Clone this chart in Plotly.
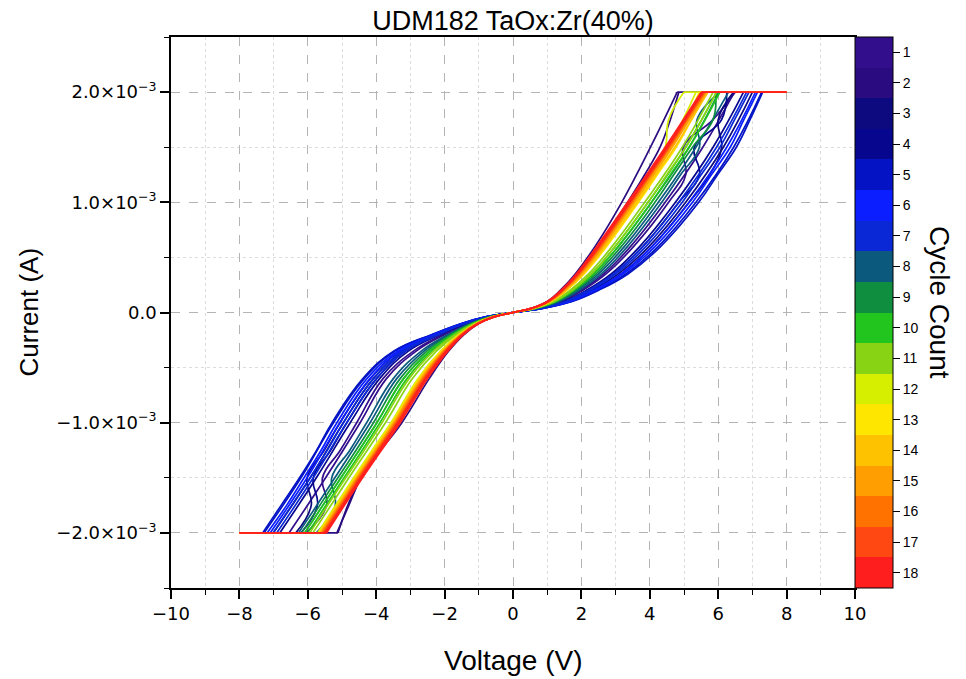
import plotly.graph_objects as go

# ---------------- data ----------------
CYCLES = list(range(1, 19))
CYCLE_COLORS = ["#330E8C", "#2A0B80", "#0C0A7E", "#06068F", "#0414C4", "#0A1EFF",
                "#0A28D6", "#0B5A7E", "#0E8E3E", "#22C41E", "#88D414", "#D6EE00",
                "#FFE600", "#FFC200", "#FF9E00", "#FF7200", "#FF4812", "#FF1E1E"]

# current levels (mA) at which the voltages were read
I_UP_MA = [0.04, 0.1, 0.2, 0.35, 0.6, 1.0, 1.5, 2.0]
I_DN_MA = [0.04, 0.1, 0.2, 0.35, 0.6, 1.0, 1.25, 1.5, 1.75, 2.0]
I_COMP_MA = 2.0          # compliance current
V_SWEEP = 8.0            # sweep limit

# positive branch, up sweep (V at I_UP_MA)
POS_UP_V = [
    [0.74, 1.39, 1.98, 2.65, 3.44, 4.45, 5.55, 6.47],
    [0.55, 1.00, 1.38, 1.82, 2.40, 3.18, 4.02, 4.80],
    [0.85, 1.60, 2.29, 3.08, 3.98, 5.05, 6.15, 7.00],
    [0.80, 1.49, 2.14, 2.87, 3.71, 4.75, 5.85, 6.74],
    [0.90, 1.70, 2.45, 3.30, 4.25, 5.35, 6.45, 7.27],
    [0.87, 1.63, 2.35, 3.16, 4.07, 5.15, 6.25, 7.09],
    [0.81, 1.53, 2.19, 2.94, 3.80, 4.85, 5.95, 6.83],
    [0.71, 1.32, 1.87, 2.50, 3.26, 4.25, 5.35, 6.30],
    [0.67, 1.25, 1.77, 2.36, 3.08, 4.05, 5.15, 6.02],
    [0.66, 1.21, 1.72, 2.29, 2.99, 3.95, 5.05, 5.95],
    [0.64, 1.18, 1.66, 2.21, 2.90, 3.85, 4.95, 5.85],
    [0.58, 1.06, 1.48, 1.97, 2.59, 3.51, 4.55, 5.35],
    [0.59, 1.08, 1.53, 2.02, 2.67, 3.59, 4.65, 5.45],
    [0.59, 1.07, 1.51, 2.00, 2.63, 3.55, 4.65, 5.60],
    [0.57, 1.04, 1.46, 1.94, 2.56, 3.47, 4.57, 5.61],
    [0.56, 1.03, 1.44, 1.91, 2.52, 3.43, 4.53, 5.57],
    [0.56, 1.01, 1.42, 1.88, 2.49, 3.39, 4.49, 5.54],
    [0.55, 1.00, 1.40, 1.85, 2.45, 3.35, 4.45, 5.50],
]

# positive branch, return sweep (V at I_DN_MA)
POS_DN_V = [
    [0.76, 1.42, 2.03, 2.72, 3.53, 4.55, 5.05, 4.98, 5.85, 6.50],
    [0.57, 1.04, 1.44, 1.90, 2.50, 3.35, 3.85, 4.30, 4.60, 4.85],
    [0.87, 1.63, 2.35, 3.16, 4.07, 5.15, 5.75, 6.10, 6.00, 6.45],
    [0.81, 1.53, 2.19, 2.94, 3.80, 4.85, 5.45, 5.30, 6.10, 6.25],
    [0.91, 1.73, 2.49, 3.36, 4.32, 5.43, 5.98, 6.53, 6.93, 7.30],
    [0.88, 1.67, 2.40, 3.23, 4.16, 5.25, 5.80, 6.35, 6.75, 7.15],
    [0.83, 1.56, 2.24, 3.01, 3.89, 4.95, 5.50, 6.05, 6.48, 6.90],
    [0.73, 1.35, 1.93, 2.58, 3.35, 4.35, 4.90, 5.45, 5.38, 6.05],
    [0.69, 1.28, 1.82, 2.43, 3.17, 4.15, 4.70, 5.25, 5.85, 5.92],
    [0.67, 1.25, 1.77, 2.36, 3.08, 4.05, 4.60, 5.15, 5.62, 6.05],
    [0.66, 1.21, 1.72, 2.29, 2.99, 3.95, 4.50, 5.05, 5.52, 5.95],
    [0.58, 1.08, 1.51, 2.00, 2.63, 3.55, 4.05, 4.45, 4.55, 5.00],
    [0.61, 1.11, 1.57, 2.08, 2.74, 3.67, 4.22, 4.77, 5.22, 5.65],
    [0.60, 1.10, 1.55, 2.05, 2.70, 3.63, 4.18, 4.73, 5.22, 5.70],
    [0.59, 1.07, 1.51, 2.00, 2.63, 3.55, 4.10, 4.65, 5.16, 5.66],
    [0.57, 1.05, 1.47, 1.95, 2.58, 3.49, 4.04, 4.59, 5.10, 5.62],
    [0.57, 1.04, 1.45, 1.92, 2.54, 3.45, 4.00, 4.55, 5.07, 5.59],
    [0.56, 1.02, 1.43, 1.89, 2.50, 3.41, 3.96, 4.51, 5.03, 5.55],
]

# negative branch, up sweep (|V| at I_UP_MA, current negative)
NEG_UP_V = [
    [0.70, 1.30, 1.99, 2.83, 3.70, 4.47, 5.48, 6.55],
    [0.55, 1.00, 1.43, 1.88, 2.45, 3.25, 4.45, 5.12],
    [0.76, 1.43, 2.22, 3.22, 4.08, 4.96, 5.93, 7.01],
    [0.74, 1.38, 2.13, 3.06, 3.90, 4.76, 5.75, 6.82],
    [0.80, 1.50, 2.35, 3.45, 4.35, 5.25, 6.20, 7.28],
    [0.78, 1.45, 2.26, 3.30, 4.18, 5.06, 6.02, 7.10],
    [0.75, 1.40, 2.17, 3.14, 3.99, 4.86, 5.84, 6.91],
    [0.66, 1.23, 1.86, 2.60, 3.40, 4.18, 5.21, 6.27],
    [0.64, 1.18, 1.77, 2.44, 3.20, 3.98, 5.03, 6.09],
    [0.63, 1.15, 1.72, 2.37, 3.10, 3.89, 4.94, 6.00],
    [0.61, 1.11, 1.65, 2.24, 2.94, 3.73, 4.80, 5.85],
    [0.58, 1.05, 1.54, 2.06, 2.70, 3.50, 4.58, 5.63],
    [0.57, 1.04, 1.52, 2.02, 2.66, 3.46, 4.54, 5.60],
    [0.57, 1.04, 1.51, 2.01, 2.64, 3.44, 4.53, 5.58],
    [0.56, 1.03, 1.50, 1.98, 2.60, 3.40, 4.49, 5.54],
    [0.56, 1.02, 1.48, 1.95, 2.56, 3.36, 4.45, 5.50],
    [0.56, 1.01, 1.47, 1.93, 2.54, 3.34, 4.44, 5.49],
    [0.55, 1.00, 1.45, 1.90, 2.50, 3.30, 4.40, 5.45],
]

# negative branch, return sweep (|V| at I_DN_MA)
NEG_DN_V = [
    [0.71, 1.33, 2.04, 2.91, 3.80, 4.57, 5.05, 5.57, 5.45, 6.05],
    [0.56, 1.03, 1.48, 1.95, 2.55, 3.40, 3.95, 4.45, 4.80, 5.15],
    [0.78, 1.45, 2.26, 3.30, 4.17, 5.06, 5.52, 6.02, 5.90, 6.35],
    [0.75, 1.40, 2.17, 3.14, 3.99, 4.86, 5.33, 5.84, 5.72, 6.20],
    [0.81, 1.51, 2.37, 3.48, 4.39, 5.29, 5.74, 6.24, 6.78, 7.32],
    [0.79, 1.48, 2.31, 3.37, 4.27, 5.15, 5.61, 6.11, 6.62, 7.19],
    [0.76, 1.43, 2.22, 3.22, 4.08, 4.96, 5.43, 5.93, 6.47, 7.01],
    [0.68, 1.25, 1.90, 2.68, 3.50, 4.28, 4.77, 5.30, 5.20, 5.75],
    [0.65, 1.20, 1.81, 2.52, 3.30, 4.08, 4.59, 5.12, 5.65, 6.18],
    [0.64, 1.18, 1.77, 2.44, 3.20, 3.98, 4.50, 5.03, 5.56, 6.09],
    [0.62, 1.14, 1.69, 2.32, 3.04, 3.83, 4.35, 4.89, 5.42, 5.94],
    [0.59, 1.07, 1.58, 2.12, 2.78, 3.57, 4.12, 4.66, 5.19, 5.71],
    [0.58, 1.06, 1.56, 2.09, 2.74, 3.53, 4.08, 4.62, 5.15, 5.67],
    [0.58, 1.06, 1.55, 2.07, 2.72, 3.51, 4.06, 4.60, 5.13, 5.65],
    [0.57, 1.05, 1.53, 2.04, 2.68, 3.48, 4.02, 4.56, 5.09, 5.62],
    [0.57, 1.04, 1.51, 2.01, 2.64, 3.44, 3.98, 4.53, 5.05, 5.58],
    [0.56, 1.03, 1.50, 1.98, 2.60, 3.40, 3.95, 4.49, 5.02, 5.54],
    [0.56, 1.02, 1.48, 1.95, 2.56, 3.36, 3.91, 4.45, 4.98, 5.50],
]

SUP = "<sup>\u22123</sup>"
Y_TICK_VALS = [-2e-3, -1e-3, 0.0, 1e-3, 2e-3]
Y_TICK_TEXT = ["\u22122.0\u00d710" + SUP, "\u22121.0\u00d710" + SUP, "0.0",
               "1.0\u00d710" + SUP, "2.0\u00d710" + SUP]
Y_MINOR_VALS = [-2.5e-3, -1.5e-3, -0.5e-3, 0.5e-3, 1.5e-3, 2.5e-3]

# ---------------- figure ----------------
FONT = "Liberation Sans, Arial, sans-serif"
TICK_FONT = "DejaVu Sans, Verdana, sans-serif"
MA = 1e-3
fig = go.Figure()


def s_curve(neg_v, pos_v, levels):
    xs = [-v for v in reversed(neg_v)] + [0.0] + list(pos_v)
    ys = [-i * MA for i in reversed(levels)] + [0.0] + [i * MA for i in levels]
    return xs, ys


for k, c in enumerate(CYCLES):
    col = CYCLE_COLORS[k]
    for neg, pos, lev in ((NEG_UP_V[k], POS_UP_V[k], I_UP_MA),
                          (NEG_DN_V[k], POS_DN_V[k], I_DN_MA)):
        xs, ys = s_curve(neg, pos, lev)
        fig.add_trace(go.Scatter(x=xs, y=ys, mode="lines",
                                 line=dict(color=col, width=1.7, shape="spline", smoothing=1.2),
                                 showlegend=False, hoverinfo="skip"))
    vp = min(POS_UP_V[k][-1], POS_DN_V[k][-1])
    vn = min(NEG_UP_V[k][-1], NEG_DN_V[k][-1])
    fig.add_trace(go.Scatter(x=[vp, V_SWEEP, None, -V_SWEEP, -vn],
                             y=[I_COMP_MA * MA, I_COMP_MA * MA, None, -I_COMP_MA * MA, -I_COMP_MA * MA],
                             mode="lines", line=dict(color=col, width=1.7),
                             showlegend=False, hoverinfo="skip"))

# discrete colour bar, cycle 1 at the top
n = len(CYCLES)
cscale = []
for j in range(n):
    colr = CYCLE_COLORS[n - 1 - j]
    cscale.append([j / n, colr])
    cscale.append([(j + 1) / n, colr])

fig.add_trace(go.Scatter(
    x=[None], y=[None], mode="markers", showlegend=False, hoverinfo="skip",
    marker=dict(color=[1], cmin=0.5, cmax=n + 0.5, colorscale=cscale, showscale=True,
                colorbar=dict(thickness=38, thicknessmode="pixels", len=1, lenmode="fraction",
                              x=1.0, xanchor="left", xpad=0, y=0.5, yanchor="middle", ypad=0,
                              outlinewidth=1, outlinecolor="black",
                              tickmode="array", tickvals=[n + 1 - c for c in CYCLES],
                              ticktext=[str(c) for c in CYCLES],
                              ticks="outside", ticklen=7, tickwidth=1, tickcolor="black",
                              tickfont=dict(family=FONT, size=14, color="black"))),
))

axis_common = dict(showline=True, linecolor="black", linewidth=1.5, mirror=True,
                   ticks="outside", tickwidth=1.5, ticklen=9, tickcolor="black",
                   showgrid=True, gridcolor="#b4b4b4", gridwidth=1, griddash="dash",
                   zeroline=False, tickfont=dict(family=TICK_FONT, size=18, color="black"))

fig.update_xaxes(range=[-10, 10], tickmode="linear", tick0=-10, dtick=2,
                 minor=dict(tickmode="linear", tick0=-9, dtick=2, ticks="outside", ticklen=5,
                            tickwidth=1.2, tickcolor="black", showgrid=True,
                            gridcolor="#dcdcdc", griddash="dot", gridwidth=1),
                 **axis_common)
fig.update_yaxes(range=[-2.5e-3, 2.5e-3], tickmode="array", tickvals=Y_TICK_VALS,
                 ticktext=Y_TICK_TEXT,
                 minor=dict(tickmode="array", tickvals=Y_MINOR_VALS, ticks="outside", ticklen=5,
                            tickwidth=1.2, tickcolor="black", showgrid=True,
                            gridcolor="#dcdcdc", griddash="dot", gridwidth=1),
                 **axis_common)

fig.update_layout(
    width=966, height=679,
    margin=dict(l=171, r=111, t=37, b=91),
    paper_bgcolor="white", plot_bgcolor="white",
    title=dict(text="UDM182 TaOx:Zr(40%)", x=0.5, xref="paper", xanchor="center",
               y=1 - 21 / 679, yref="container", yanchor="middle",
               font=dict(family=FONT, size=27, color="black")),
    annotations=[
        dict(text="Current (A)", xref="paper", yref="paper", x=(28 - 171) / 684, y=0.5,
             textangle=-90, showarrow=False, font=dict(family=FONT, size=26, color="black"),
             xanchor="center", yanchor="middle"),
        dict(text="Voltage (V)", xref="paper", yref="paper", x=0.5, y=(588 - 660) / 551,
             showarrow=False, font=dict(family=FONT, size=28, color="black"),
             xanchor="center", yanchor="middle"),
        dict(text="Cycle Count", xref="paper", yref="paper", x=(940 - 171) / 684,
             y=(588 - 302) / 551, textangle=90, showarrow=False,
             font=dict(family=FONT, size=28, color="black"),
             xanchor="center", yanchor="middle"),
    ],
)

fig.write_html("out.html")
